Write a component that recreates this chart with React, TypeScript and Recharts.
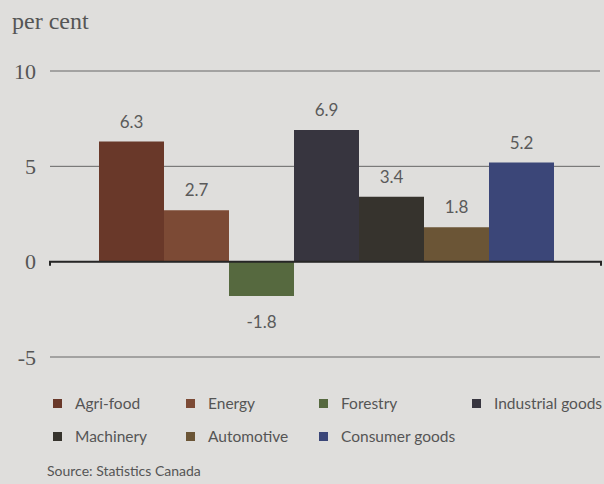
import React from "react";
import {
  BarChart,
  Bar,
  XAxis,
  YAxis,
  CartesianGrid,
  ReferenceLine,
  LabelList
} from "recharts";

// sectors, left to right
const SECTORS = [
  "Agri-food",
  "Energy",
  "Forestry",
  "Industrial goods",
  "Machinery",
  "Automotive",
  "Consumer goods"
];

// per cent
const VALUES = [6.3, 2.7, -1.8, 6.9, 3.4, 1.8, 5.2];

const COLORS = ["#693829", "#7c4a35", "#56693f", "#37353f", "#36332d", "#6b5536", "#3b4678"];

const Y_TICKS = [-5, 0, 5, 10];

const keyOf = (i: number) => `s${i}`;

const chartData = [
  SECTORS.reduce((row: any, _s, i) => {
    row[keyOf(i)] = VALUES[i];
    return row;
  }, { name: "all" })
];

const BG = "#dfdedc";
const TEXT = "#555555";
const SANS = "Lato, 'Open Sans', sans-serif";
const SERIF = "'Liberation Serif', 'DejaVu Serif', serif";

// legend columns (square left edge) and rows
const LEGEND_COLS = [53, 186, 319, 472];
const LEGEND_ROWS = [394, 427];

function ZeroLine(props: any) {
  const { x1, y1, x2, y2 } = props;
  return (
    <path
      d={`M${x1},${y1 + 4}L${x1},${y1}L${x2 + 1},${y2}L${x2 + 1},${y2 + 4}`}
      stroke="#262626"
      strokeWidth={2}
      fill="none"
    />
  );
}

export default function App() {
  return (
    <div
      style={{
        position: "absolute",
        top: 0,
        left: 0,
        width: 604,
        height: 484,
        background: BG,
        overflow: "hidden"
      }}
    >
      <div
        style={{
          position: "absolute",
          left: 12,
          top: 8,
          fontFamily: SERIF,
          fontSize: 24,
          color: TEXT
        }}
      >
        per cent
      </div>

      <BarChart
        width={604}
        height={484}
        data={chartData}
        margin={{ top: 71, right: 4, left: 0, bottom: 127 }}
        barCategoryGap={49}
        barGap={0}
      >
        <CartesianGrid vertical={false} stroke="#666666" strokeWidth={1} />
        <XAxis dataKey="name" hide />
        <YAxis
          width={50}
          domain={[-5, 10]}
          ticks={Y_TICKS}
          axisLine={false}
          tickLine={false}
          tickSize={0}
          tickMargin={14}
          tick={{ fill: TEXT, fontSize: 22, fontFamily: SERIF }}
        />
        {SECTORS.map((s, i) => (
          <Bar key={s} dataKey={keyOf(i)} name={s} fill={COLORS[i]} isAnimationActive={false}>
            <LabelList
              dataKey={keyOf(i)}
              position="top"
              offset={VALUES[i] < 0 ? 20 : 14}
              formatter={(v: any) => Number(v).toFixed(1)}
              style={{ fill: "#5a5a5a", fontSize: 17, fontFamily: SANS }}
            />
          </Bar>
        ))}
        <ReferenceLine y={0} shape={ZeroLine} />
      </BarChart>

      {SECTORS.map((s, i) => {
        const left = LEGEND_COLS[i < 4 ? i : i - 4];
        const top = LEGEND_ROWS[i < 4 ? 0 : 1];
        return (
          <div
            key={s}
            style={{
              position: "absolute",
              left,
              top,
              display: "flex",
              alignItems: "center",
              whiteSpace: "nowrap",
              fontFamily: SANS,
              fontSize: 15.5,
              color: TEXT
            }}
          >
            <span
              style={{
                display: "inline-block",
                width: 9,
                height: 9,
                background: COLORS[i],
                marginRight: 13
              }}
            />
            {s}
          </div>
        );
      })}

      <div
        style={{
          position: "absolute",
          left: 47,
          top: 462,
          fontFamily: SANS,
          fontSize: 14,
          color: TEXT
        }}
      >
        Source: Statistics Canada
      </div>
    </div>
  );
}
